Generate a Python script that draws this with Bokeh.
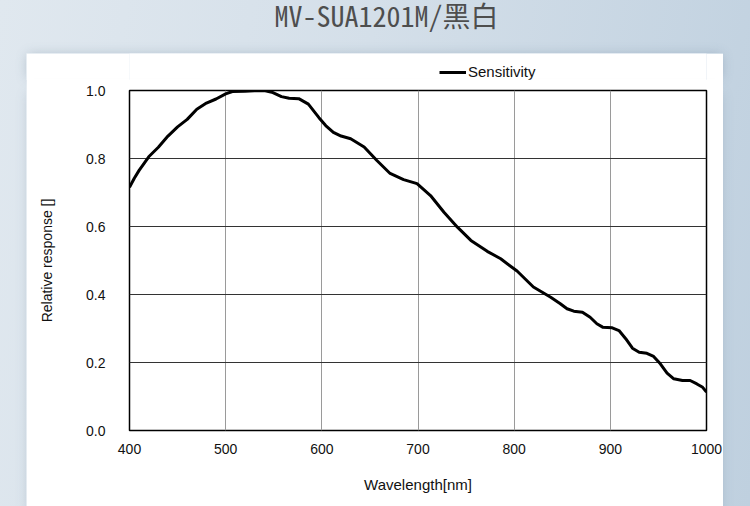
from bokeh.plotting import figure
from bokeh.models import Label, FixedTicker, Range1d
from bokeh.layouts import column
from bokeh.embed import file_html
from bokeh.resources import INLINE

# ---- data ----
title_text = "MV-SUA1201M/黑白"
series_name = "Sensitivity"
x_label = "Wavelength[nm]"
y_label = "Relative response []"

wavelength = [400, 405, 410, 420, 430, 440, 450, 460, 470, 480, 490, 500, 507,
              520, 530, 540, 548, 558, 566, 576, 586, 597, 604, 612, 620, 630,
              644, 657, 671, 685, 699, 713, 727, 741, 755, 772, 786, 803, 820,
              838, 848, 855, 862, 871, 879, 886, 892, 902, 909, 916, 923, 930,
              938, 945, 952, 959, 966, 975, 983, 990, 996, 1000]
response = [0.715, 0.742, 0.765, 0.805, 0.833, 0.866, 0.893, 0.915, 0.945, 0.963,
            0.975, 0.990, 0.997, 0.998, 0.999, 1.000, 0.995, 0.982, 0.977, 0.976,
            0.960, 0.920, 0.897, 0.877, 0.866, 0.858, 0.834, 0.795, 0.756, 0.738,
            0.726, 0.691, 0.642, 0.598, 0.559, 0.527, 0.505, 0.469, 0.422,
            0.392, 0.373, 0.358, 0.351, 0.348, 0.333, 0.314, 0.304, 0.302, 0.294,
            0.270, 0.242, 0.230, 0.227, 0.218, 0.196, 0.169, 0.152, 0.147, 0.147,
            0.137, 0.127, 0.113]

x_ticks = [400, 500, 600, 700, 800, 900, 1000]
x_tick_labels = ["400", "500", "600", "700", "800", "900", "1000"]
y_ticks = [0.0, 0.2, 0.4, 0.6, 0.8, 1.0]
y_tick_labels = ["0.0", "0.2", "0.4", "0.6", "0.8", "1.0"]

FONT = "Liberation Sans"
LINE_W = 3
PAGE_BG = "linear-gradient(100deg, #e0e8ef 0%, #d4dfe9 45%, #bfd0df 100%)"
SHADOW = "rgba(80, 105, 130, 0.35)"

# ---- title strip (transparent: the page gradient shows through) ----
tf = figure(width=750, height=53, toolbar_location=None, output_backend="svg",
            x_axis_location=None, y_axis_location=None,
            x_range=Range1d(400, 1000), y_range=Range1d(2, 3),
            min_border_left=103, min_border_right=17,
            min_border_top=0, min_border_bottom=0,
            border_fill_color=None, background_fill_color=None,
            outline_line_color=None)
tf.grid.visible = False
tf.add_layout(Label(x=171, y=39, x_units="screen", y_units="screen",
                    text=title_text, text_align="left",
                    text_baseline="alphabetic", text_font_size="28px",
                    text_color="#4e4e4e", text_font="Noto Sans Mono CJK SC"))

# ---- top of the white card: legend ----
lf = figure(width=697, height=27, toolbar_location=None, output_backend="svg",
            x_axis_location=None, y_axis_location=None,
            x_range=Range1d(400, 1000), y_range=Range1d(2, 3),
            min_border_left=103, min_border_right=17,
            min_border_top=0, min_border_bottom=0,
            border_fill_color="white", background_fill_color="white",
            outline_line_color=None, margin=(0, 27, -1, 26))
lf.styles = {"box-shadow": "0 0 12px -2px " + SHADOW}
lf.grid.visible = False
# legend entry for the series (its data lie outside this strip's y range)
lf.line(wavelength, response, line_color="black", line_width=LINE_W,
        legend_label=series_name)
lg = lf.legend[0]
lg.location = (310, 0)
lg.border_line_color = None
lg.background_fill_alpha = 0
lg.padding = 0
lg.margin = 0
lg.glyph_width = 27
lg.glyph_height = 14
lg.label_height = 14
lg.label_standoff = 2
lg.label_text_font = FONT
lg.label_text_font_size = "15px"
lg.label_text_color = "#111111"

# ---- main chart (rest of the white card) ----
p = figure(width=697, height=427, toolbar_location=None, output_backend="svg",
           x_range=(400, 1000), y_range=(0, 1.0),
           min_border_left=103, min_border_right=17,
           min_border_top=11, min_border_bottom=76,
           border_fill_color="white", background_fill_color="white",
           outline_line_color="black", outline_line_width=1.5,
           margin=(0, 27, 0, 26))
p.styles = {"box-shadow": "0 10px 12px -4px " + SHADOW}

p.line(wavelength, response, line_color="black", line_width=LINE_W,
       line_join="round")

p.xaxis.ticker = FixedTicker(ticks=x_ticks)
p.yaxis.ticker = FixedTicker(ticks=y_ticks)
p.xaxis.major_label_overrides = dict(zip(x_ticks, x_tick_labels))
p.yaxis.major_label_overrides = dict(zip(y_ticks, y_tick_labels))

for ax in (p.xaxis, p.yaxis):
    ax.axis_line_color = None
    ax.major_tick_line_color = None
    ax.minor_tick_line_color = None
    ax.major_label_text_font = FONT
    ax.major_label_text_font_size = "14px"
    ax.major_label_text_color = "#111111"
    ax.axis_label_text_font = FONT
    ax.axis_label_text_font_style = "normal"
    ax.axis_label_text_color = "#111111"

p.xaxis.axis_label = x_label
p.yaxis.axis_label = y_label
p.xaxis.major_label_standoff = 7
p.yaxis.major_label_standoff = 18
p.xaxis.axis_label_standoff = 19
p.yaxis.axis_label_standoff = 28
p.xaxis.axis_label_text_font_size = "15px"
p.yaxis.axis_label_text_font_size = "14px"

p.xgrid.ticker = FixedTicker(ticks=x_ticks)
p.ygrid.ticker = FixedTicker(ticks=y_ticks)
p.xgrid.grid_line_color = "#9a9a9a"
p.xgrid.grid_line_width = 1
p.ygrid.grid_line_color = "#333333"
p.ygrid.grid_line_width = 1

layout = column(tf, lf, p, styles={"background": PAGE_BG})

html = file_html(layout, INLINE)
html = html.replace(
    "</head>",
    "<style>html, body { margin: 0; overflow: hidden; background: "
    + PAGE_BG + "; }</style></head>", 1)
open("out.html", "w").write(html)
